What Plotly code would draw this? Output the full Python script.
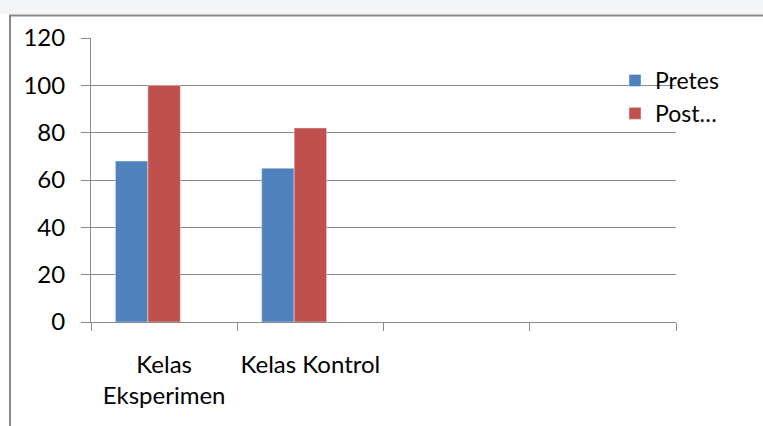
import plotly.graph_objects as go

categories = ["Kelas<br>Eksperimen", "Kelas Kontrol", " ", "  "]
pretes = [68, 65, None, None]
posttest = [100, 82, None, None]
series_names = ["Pretes", "Post…"]
y_ticks = [0, 20, 40, 60, 80, 100, 120]

W, H = 763, 426
L, R, T, B = 91, 87, 38, 104
pw, ph = W - L - R, H - T - B

def px(x):
    return (x - L) / pw

def py(y):
    return (H - B - y) / ph

FONT = "Lato"
GRID = "#8a8a8a"

fig = go.Figure()
fig.add_trace(go.Bar(x=categories, y=pretes, name=series_names[0],
                     marker_color="#4f81bd", width=0.222, offset=-0.333))
fig.add_trace(go.Bar(x=categories, y=posttest, name=series_names[1],
                     marker_color="#c0504d", width=0.222, offset=-0.111))

shapes = [
    dict(type="rect", xref="paper", yref="paper", x0=px(0), x1=px(W), y0=py(14), y1=py(0),
         fillcolor="#f4f5f7", line=dict(width=0), layer="below"),
    dict(type="line", xref="paper", yref="paper", x0=px(9), x1=px(W), y0=py(15.5), y1=py(15.5),
         line=dict(color=GRID, width=2)),
    dict(type="line", xref="paper", yref="paper", x0=px(10), x1=px(10), y0=py(15.5), y1=py(H),
         line=dict(color=GRID, width=2)),
]

fig.update_layout(
    width=W, height=H,
    margin=dict(l=L, r=R, t=T, b=B, autoexpand=False),
    paper_bgcolor="white", plot_bgcolor="white",
    barmode="overlay",
    font=dict(family=FONT, size=24, color="black"),
    shapes=shapes,
    showlegend=True,
    legend=dict(x=px(615), y=py(59), xanchor="left", yanchor="top",
                bgcolor="rgba(0,0,0,0)", font=dict(family=FONT, size=23, color="black"),
                itemclick=False),
    xaxis=dict(type="category", categoryorder="array", categoryarray=categories,
               range=[-0.5, 3.5], tickson="boundaries", ticks="outside", ticklen=8,
               tickcolor=GRID, tickwidth=1, showline=True, linecolor=GRID, linewidth=1,
               showgrid=False, zeroline=False, ticklabelstandoff=21, tickangle=0,
               automargin=False, tickfont=dict(family=FONT, size=24)),
    yaxis=dict(range=[0, 120], tickvals=y_ticks, ticks="outside", ticklen=9,
               tickcolor=GRID, tickwidth=1, showline=True, linecolor=GRID, linewidth=1,
               showgrid=True, gridcolor=GRID, gridwidth=1, zeroline=False, automargin=False,
               tickfont=dict(family=FONT, size=24), ticklabelstandoff=11),
)

fig.write_html("out.html")
